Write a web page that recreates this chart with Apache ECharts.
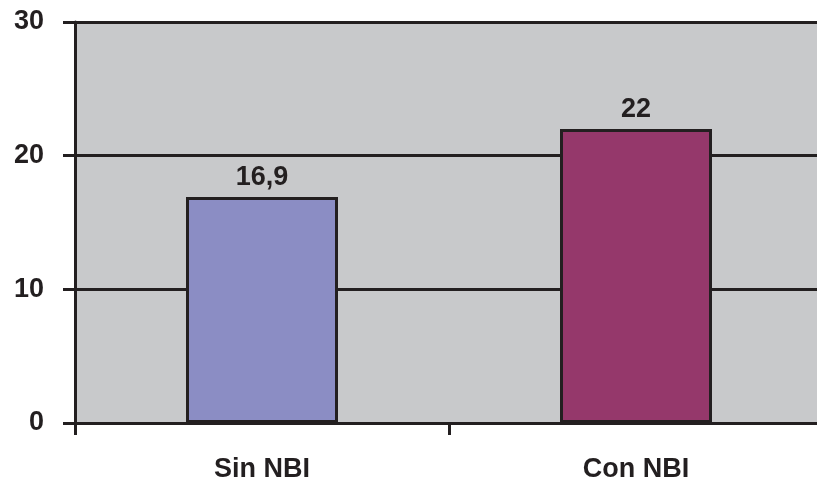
<!DOCTYPE html>
<html><head><meta charset="utf-8">
<script src="https://cdn.jsdelivr.net/npm/echarts@6/dist/echarts.min.js"></script>
<style>html,body{margin:0;padding:0;background:#fff;overflow:hidden}#c{width:817px;height:490px}</style>
</head><body><div id="c"></div>
<script>
const categories = ['Sin NBI', 'Con NBI'];
const values = [16.9, 22];
const barColors = ['#8B8DC4', '#95386B'];
const yTicks = [0, 10, 20, 30];

const chart = echarts.init(document.getElementById('c'));
const lineCol = '#231F20';
chart.setOption({
  animation: false,
  grid: { left: 75, top: 22, height: 401, width: 748, outerBoundsMode: 'none', containLabel: false, show: true, backgroundColor: '#C8C9CB', borderWidth: 0 },
  xAxis: {
    type: 'category', data: categories,
    axisLine: { lineStyle: { color: lineCol, width: 3 } },
    axisTick: { show: true, length: 12, lineStyle: { color: lineCol, width: 3 } },
    axisLabel: { margin: 33, color: lineCol, fontFamily: 'Liberation Sans', fontWeight: 'bold', fontSize: 27 }
  },
  yAxis: {
    type: 'value', min: yTicks[0], max: yTicks[yTicks.length - 1], interval: 10,
    axisLine: { show: true, lineStyle: { color: lineCol, width: 3 } },
    axisTick: { show: true, length: 12, lineStyle: { color: lineCol, width: 3 } },
    splitLine: { show: true, lineStyle: { color: lineCol, width: 3 } },
    axisLabel: { margin: 31, color: lineCol, fontFamily: 'Liberation Sans', fontWeight: 'bold', fontSize: 27 }
  },
  series: [{
    type: 'bar', barWidth: 152,
    data: values.map((v, i) => ({ value: v, itemStyle: { color: barColors[i] } })),
    itemStyle: { borderColor: lineCol, borderWidth: 3 },
    label: { show: true, position: 'top', distance: 6, color: lineCol, fontFamily: 'Liberation Sans', fontWeight: 'bold', fontSize: 27,
      formatter: p => String(p.value).replace('.', ',') }
  }]
});
</script></body></html>
